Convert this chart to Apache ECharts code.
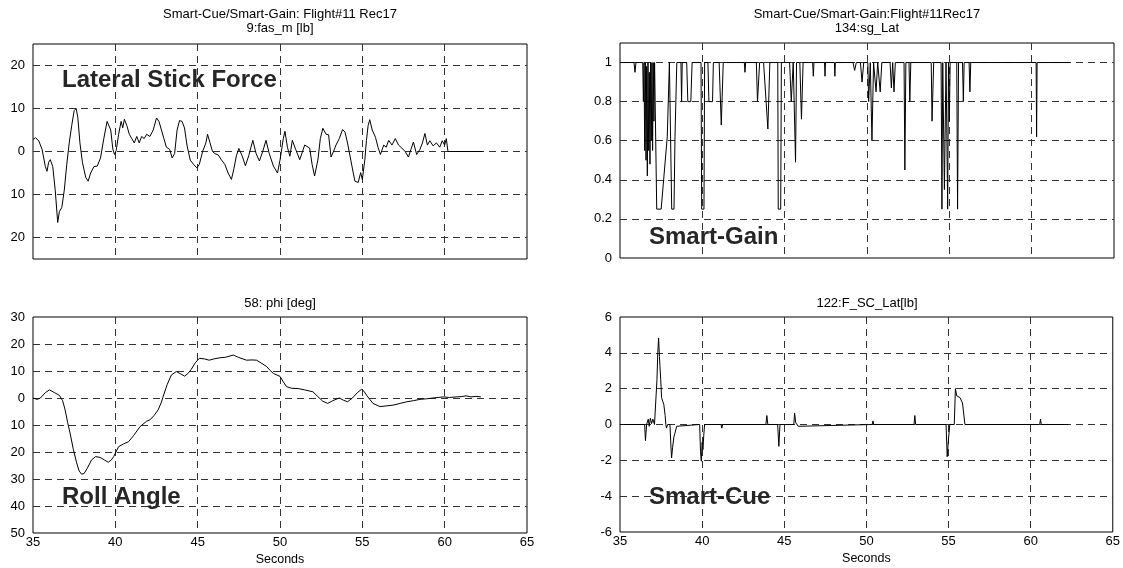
<!DOCTYPE html>
<html><head><meta charset="utf-8">
<script src="https://cdn.jsdelivr.net/npm/echarts@6/dist/echarts.min.js"></script>
<style>html,body{margin:0;padding:0;background:#fff}#c{width:1123px;height:568px}</style>
</head><body><div id="c"></div>
<script>
// ---- data ----
const xTicks = [35, 40, 45, 50, 55, 60, 65];

// Panel 1: 9:fas_m [lb]
const forceT = [35.00,35.15,35.35,35.55,35.75,35.85,35.95,36.05,36.2,36.35,36.5,36.6,36.75,36.9,37.05,37.2,37.35,37.5,37.62,37.72,37.85,38.0,38.2,38.35,38.5,38.7,38.9,39.1,39.3,39.5,39.6,39.72,39.85,39.95,40.05,40.2,40.35,40.45,40.55,40.7,40.85,41.0,41.15,41.3,41.45,41.6,41.75,41.9,42.1,42.3,42.5,42.65,42.8,42.95,43.1,43.3,43.45,43.6,43.75,43.9,44.05,44.2,44.35,44.55,44.75,44.95,45.1,45.3,45.5,45.6,45.75,45.9,46.05,46.25,46.45,46.65,46.85,47.05,47.2,47.35,47.5,47.7,47.9,48.1,48.35,48.55,48.75,48.95,49.15,49.35,49.6,49.85,50.0,50.2,50.3,50.45,50.6,50.75,50.95,51.2,51.5,51.8,51.95,52.1,52.3,52.45,52.6,52.8,52.95,53.1,53.25,53.4,53.6,53.8,53.95,54.1,54.3,54.45,54.55,54.75,54.9,55.0,55.15,55.25,55.35,55.45,55.6,55.8,55.95,56.1,56.3,56.45,56.6,56.8,57.0,57.2,57.4,57.6,57.8,57.95,58.1,58.3,58.5,58.65,58.8,58.95,59.1,59.3,59.5,59.7,59.85,60.0,60.1,60.2,62.3];
const forceV = [2.8,3.2,2.5,0.5,-3.5,-4.6,-2.5,-1.9,-3.5,-9,-16.5,-14,-13,-9,-3,2,6,9.5,10,8,2,-2.5,-6,-6.9,-5,-3.5,-3.4,-1.5,3,7,7.4,5,0.5,-0.7,0.2,4,7,5.5,7.5,6,4,3,2,3.5,2.0,3.5,3,4,3.5,5,7.8,7,5,3,1,0.5,-1.5,-0.5,5,7.2,7,5.5,1.5,-2,-3,-3.8,-3,0,2,4,2,0,-0.5,-0.8,-2,-3,-5,-6.5,-4,-1,0.7,-1,-3.3,-1,2.6,-0.5,-2.2,0,2.6,-0.5,-3.4,-5,-2,3,4.7,1,-1.1,2.6,0.5,-1.9,1.5,0.8,-3,-5.7,-2,3,5.4,4,3.9,-1.3,0,1.5,3,5.1,4.5,2,-2,-5,-6.9,-7.2,-4.9,-6.5,-2,2.6,6,7.4,5,3.3,1,-0.7,1.5,1.0,2.6,1.5,3,1.5,0.8,0,-1.3,0.5,2.2,-0.7,0.5,2,4.2,1.5,2.5,1.3,2,1,2.5,1.5,3,0,0];

// Panel 2: 134:sg_Lat
const gainT = [35.0,35.85,35.91,35.97,36.38,36.42,36.46,36.5,36.54,36.58,36.62,36.66,36.7,36.74,36.78,36.82,36.86,36.9,36.94,36.98,37.02,37.06,37.1,37.2,37.23,37.5,37.87,38.0,38.1,38.14,38.28,38.34,38.45,38.7,38.74,38.78,39.05,39.12,39.3,39.38,39.92,39.96,40.1,40.14,40.34,40.4,40.62,40.67,41.02,41.15,41.27,42.55,42.59,42.63,43.28,43.35,43.48,43.72,43.98,44.1,44.58,44.61,44.76,44.8,45.3,45.4,45.52,45.62,45.66,45.72,45.92,46.02,46.12,46.7,46.74,46.78,47.42,47.45,47.48,48.02,48.05,48.08,49.15,49.25,49.35,49.6,49.7,49.8,50.05,50.1,50.2,50.3,50.4,50.55,50.65,50.8,50.9,51.4,51.48,51.56,51.64,51.72,52.25,52.3,52.36,52.55,52.6,52.66,53.9,53.95,54.05,54.5,54.55,54.6,54.7,54.8,54.9,54.95,55.0,55.05,55.45,55.5,55.56,55.8,55.85,55.9,56.2,56.25,56.3,60.27,60.3,60.33,62.3];
const gainV = [1,1,0.95,1,1,0.8,1,0.55,1,0.5,0.98,0.42,1,0.55,0.95,0.48,1,0.6,1,0.55,1,0.7,1,1,0.25,0.25,0.62,1,1,0.25,0.25,0.62,1,1,0.8,1,1,0.8,0.8,1,1,0.25,0.25,1,1,0.8,0.8,1,1,0.68,1,1,0.95,1,1,0.8,1,1,0.66,1,1,0.25,0.25,1,1,0.8,1,1,0.49,1,1,0.71,1,1,0.93,1,1,0.93,1,1,0.93,1,1,0.96,1,1,0.9,1,1,0.8,1,0.6,1,0.85,1,0.85,1,1,0.87,1,0.85,1,1,0.45,1,1,0.8,1,1,0.7,1,1,0.25,1,0.35,1,0.25,1,0.7,1,1,0.25,1,1,0.8,1,1,0.85,1,1,0.62,1,1];

// Panel 3: 58: phi [deg]
const phiT = [35.0,35.25,35.45,35.75,36.0,36.3,36.6,36.8,36.95,37.1,37.25,37.45,37.65,37.8,37.95,38.1,38.3,38.55,38.8,39.07,39.35,39.57,39.75,39.9,40.2,40.5,40.8,41.1,41.5,41.9,42.1,42.35,42.6,42.8,42.9,43.15,43.4,43.7,43.95,44.2,44.4,44.6,44.85,45.1,45.4,45.7,46.0,46.35,46.7,47.16,47.5,47.97,48.3,48.58,48.9,49.2,49.4,49.6,50.0,50.2,50.4,50.7,51.1,51.5,52.0,52.3,52.6,52.9,53.2,53.6,53.85,54.1,54.4,54.7,54.95,55.1,55.25,55.45,55.65,56.07,56.5,56.9,57.3,57.7,58.1,58.5,58.9,59.3,59.6,59.9,60.3,60.7,61.0,61.3,61.6,61.9,62.2];
const phiV = [0,-0.5,0,2,3,2,1,-1,-4.4,-9,-13,-19,-24,-27,-28.2,-28,-26,-23,-21.7,-22,-23,-23.8,-23,-21.7,-18,-17,-16.2,-14,-10.6,-8.6,-8.1,-6.5,-4.4,-1.5,0.5,5,8.5,9.8,9,8.1,9,10.5,13,14.7,14.5,14,14.5,14.9,15.1,15.9,15,14,14.1,14,12.8,11.6,10.2,9.1,8,6,4.2,3.6,3.5,3,2.3,0.5,-1.2,-2,-1,0,-0.8,-1.4,0,2,3.2,2.5,1.1,-0.5,-2,-3.2,-2.9,-2.6,-2,-1.4,-1,-0.5,-0.3,0,0.2,0.4,0.2,0.4,0.5,0.8,0.4,0.6,0.4];

// Panel 4: 122:F_SC_Lat[lb]
const cueT = [35.0,36.5,36.55,36.62,36.72,36.78,36.85,36.92,37.0,37.1,37.17,37.25,37.3,37.35,37.4,37.43,37.48,37.53,37.6,37.67,37.75,37.79,37.83,37.9,38.04,38.1,38.14,38.2,38.28,38.34,38.45,38.54,39.85,39.9,39.95,40.0,40.05,40.1,40.15,41.15,41.2,41.25,43.88,43.94,44.0,44.6,44.67,44.74,45.58,45.63,45.7,45.8,45.85,45.9,50.35,50.4,50.45,52.9,52.95,53.0,54.85,54.92,55.0,55.08,55.35,55.42,55.5,55.7,55.85,56.0,60.55,60.6,60.65,62.3];
const cueV = [0,0,-0.9,0,0.3,-0.1,0.35,0.05,0.3,0,0.1,2.5,4.0,4.83,3.8,3.3,2.5,1.5,1.3,1.1,0.5,0,-0.2,0,0,-1.2,-1.87,-1.3,-0.7,-0.5,-0.1,0,0,-1.5,-2.05,-1.0,-1.4,-0.6,0,0,-0.2,0,0,0.5,0,0,-1.22,0,0,0.63,0.1,0,-0.1,0,0,0.2,0,0,0.5,0,0,-1.8,-0.8,0,0,2.0,1.6,1.5,1.2,0,0,0.3,0,0];

const forceLabels = {'-20':'20','-10':'10','0':'0','10':'10','20':'20'};
const phiLabels = {'30':'30','20':'20','10':'10','0':'0','-10':'10','-20':'20','-30':'30','-40':'40','-50':'50'};

// ---- chart ----
const FONT = '"Liberation Sans", Arial, Helvetica, sans-serif';
const GRID_C = '#333';
const DASH = [7, 5];
const T = 'rgba(0,0,0,0)';
const zip = (a, b) => a.map((t, i) => [t, b[i]]);

function xAx(idx, showLabels) {
  return {
    type: 'value', gridIndex: idx, min: 35, max: 65, interval: 5,
    axisLine: { show: false }, axisTick: { show: false },
    axisLabel: { show: showLabels, color: '#000', fontFamily: FONT, fontSize: 13, margin: 3 },
    splitLine: { show: true, lineStyle: { type: DASH, width: 1, color: [T, GRID_C, GRID_C, GRID_C, GRID_C, GRID_C, T] } },
    name: showLabels ? 'Seconds' : '', nameLocation: 'middle', nameGap: 20,
    nameTextStyle: { color: '#000', fontFamily: FONT, fontSize: 12.5 }
  };
}
function yAx(idx, o) {
  return Object.assign({
    type: 'value', gridIndex: idx,
    axisLine: { show: false }, axisTick: { show: false },
    splitLine: { show: true, lineStyle: { type: DASH, width: 1, color: o.colors } },
    axisLabel: { color: '#000', fontFamily: FONT, fontSize: 13, margin: 8, formatter: o.fmt, showMinLabel: true, showMaxLabel: true }
  }, o.ax);
}
function line(idx, t, v) {
  return { type: 'line', xAxisIndex: idx, yAxisIndex: idx, data: zip(t, v), symbol: 'none', showSymbol: false,
    lineStyle: { color: '#000', width: 1 }, animation: false, silent: true };
}

const chart = echarts.init(document.getElementById('c'), null, { renderer: 'canvas' });
const gridBase = { show: true, borderColor: '#000', borderWidth: 1, backgroundColor: 'transparent', containLabel: false };
const txt = (x, y, s, size, bold, color) => ({
  type: 'text', x: x, y: y, silent: true, z: 100,
  style: { text: s, fill: color || '#000', font: (bold ? 'bold ' : '') + size + 'px ' + FONT, textAlign: bold ? 'left' : 'center', textVerticalAlign: 'middle' }
});

chart.setOption({
  animation: false,
  grid: [
    Object.assign({ left: 33, top: 44, width: 494, height: 215 }, gridBase),
    Object.assign({ left: 620, top: 43, width: 494, height: 215 }, gridBase),
    Object.assign({ left: 33, top: 317, width: 494, height: 216 }, gridBase),
    Object.assign({ left: 620, top: 317, width: 494, height: 215 }, gridBase)
  ],
  xAxis: [xAx(0, false), xAx(1, false), xAx(2, true), xAx(3, true)],
  yAxis: [
    yAx(0, { ax: { min: -25, max: 25, interval: 5 }, colors: [T, GRID_C],
      fmt: v => (forceLabels[String(Math.round(v))] !== undefined && Math.round(v) % 10 === 0) ? forceLabels[String(Math.round(v))] : '' }),
    yAx(1, { ax: { min: 0, max: 1.1, interval: 0.1 }, colors: [T, T, GRID_C, T, GRID_C, T, GRID_C, T, GRID_C, T, GRID_C, T],
      fmt: v => { const k = Math.round(v * 10); if (k % 2 !== 0 || k > 10) return ''; return k === 0 ? '0' : (k === 10 ? '1' : (k / 10).toFixed(1)); } }),
    yAx(2, { ax: { min: -50, max: 30, interval: 10 }, colors: [T, GRID_C, GRID_C, GRID_C, GRID_C, GRID_C, GRID_C, GRID_C, T],
      fmt: v => phiLabels[String(Math.round(v))] || '' }),
    yAx(3, { ax: { min: -6, max: 6, interval: 2 }, colors: [T, GRID_C, GRID_C, GRID_C, GRID_C, GRID_C, T],
      fmt: v => String(Math.round(v)) })
  ],
  series: [line(0, forceT, forceV), line(1, gainT, gainV), line(2, phiT, phiV), line(3, cueT, cueV)],
  graphic: [
    txt(280, 14, 'Smart-Cue/Smart-Gain: Flight#11 Rec17', 13),
    txt(280, 28, '9:fas_m [lb]', 13),
    txt(867, 14, 'Smart-Cue/Smart-Gain:Flight#11Rec17', 13),
    txt(867, 28, '134:sg_Lat', 13),
    txt(280, 303, '58: phi [deg]', 13),
    txt(867, 303, '122:F_SC_Lat[lb]', 13),
    txt(62, 80, 'Lateral Stick Force', 24, true, '#262626'),
    txt(649, 237, 'Smart-Gain', 24, true, '#262626'),
    txt(62, 497, 'Roll Angle', 24, true, '#262626'),
    txt(649, 497, 'Smart-Cue', 24, true, '#262626')
  ]
});
</script></body></html>
